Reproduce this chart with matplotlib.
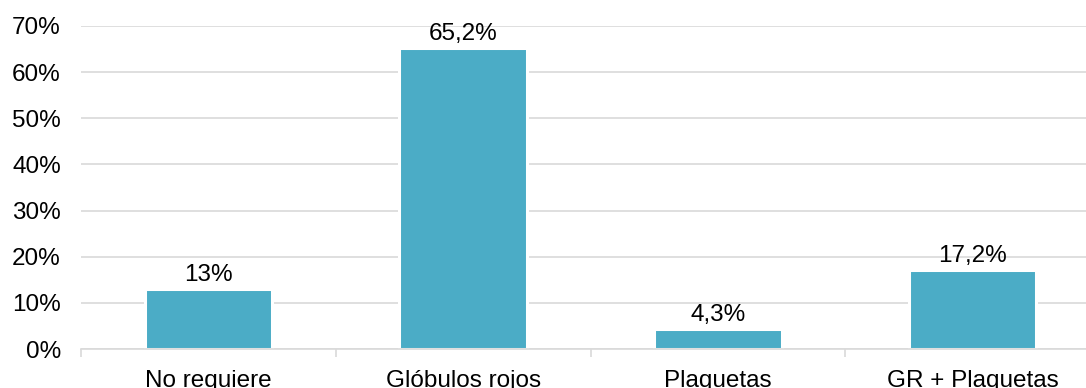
import numpy as np
import matplotlib.pyplot as plt
from matplotlib.ticker import FuncFormatter, FixedLocator

plt.rcParams['font.family'] = ['Liberation Sans', 'DejaVu Sans']

categories = ['No requiere', 'Glóbulos rojos', 'Plaquetas', 'GR + Plaquetas']
values = [13.0, 65.2, 4.3, 17.2]
value_labels = ['13%', '65,2%', '4,3%', '17,2%']

bar_color = '#4BACC6'
grid_color = '#D9D9D9'
fsize = 17.5

fig = plt.figure(figsize=(10.86, 3.88), dpi=100)
ax = fig.add_axes([0.0746, 0.1005, 0.9383, 0.8325])

x = np.arange(len(categories))
bars = ax.bar(x, values, width=0.5, color=bar_color, edgecolor='white',
              linewidth=2.2, zorder=3)

for b, lab in zip(bars, value_labels):
    ax.annotate(lab, (b.get_x() + b.get_width() / 2, b.get_height()),
                xytext=(0, 2), textcoords='offset points',
                ha='center', va='bottom', fontsize=fsize, color='black')

ax.set_xlim(-0.5, len(categories) - 0.5)
ax.set_ylim(0, 70)
ax.set_yticks(np.arange(0, 71, 10))
ax.yaxis.set_major_formatter(FuncFormatter(lambda v, p: '%d%%' % v))
ax.grid(axis='y', color=grid_color, linewidth=1.2, zorder=0)

ax.set_xticks(x)
ax.set_xticklabels(categories)
ax.xaxis.set_minor_locator(FixedLocator(np.arange(-0.5, len(categories), 1.0)))
ax.tick_params(axis='x', which='major', length=0, pad=15, labelsize=fsize)
ax.tick_params(axis='x', which='minor', length=6, width=1.2, color=grid_color)
ax.tick_params(axis='y', length=0, pad=14.5, labelsize=fsize)

for s in ['top', 'right', 'left']:
    ax.spines[s].set_visible(False)
ax.spines['bottom'].set_color(grid_color)
ax.spines['bottom'].set_linewidth(1.2)
ax.spines['bottom'].set_zorder(4)

fig.savefig('out.png', dpi=100)
